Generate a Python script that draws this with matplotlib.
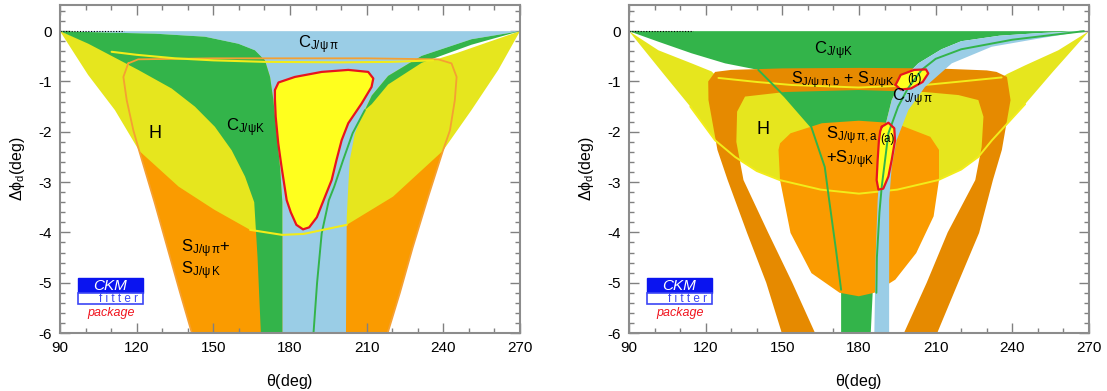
import matplotlib.pyplot as plt
from matplotlib.patches import Rectangle
from matplotlib.ticker import MultipleLocator

plt.rcParams['font.family'] = ['Liberation Sans', 'DejaVu Sans']
plt.rcParams['mathtext.fontset'] = 'custom'
plt.rcParams['mathtext.rm'] = 'Liberation Sans'
plt.rcParams['mathtext.it'] = 'Liberation Sans:italic'
plt.rcParams['mathtext.bf'] = 'Liberation Sans:bold'

# colours
C_YEL = '#e6e61e'
C_YEL_LINE = '#f2ec1a'
C_BRIGHT = '#ffff1e'
C_GREEN = '#33b44a'
C_BLUE = '#9acde6'
C_ORANGE = '#fa9b00'
C_DKORANGE = '#e68a00'
C_ORANGE_LINE = '#f5a032'
C_RED = '#e8141e'

# ---------------- left panel: (theta, delta phi_d) boundaries ----------------
L_H_lower = [(90, 0), (101, -0.87), (111.5, -1.57), (121, -2.38), (136.4, -3.09),
             (150.4, -3.55), (164.4, -3.95), (177, -4.05), (185.4, -4.03),
             (202.2, -3.85), (220.3, -3.29), (239.8, -2.38), (251, -1.57),
             (261.5, -0.77), (270, 0)]
L_H_upper = [(90, 0), (100, -0.2), (110.2, -0.41), (120, -0.47), (135, -0.54),
             (150, -0.58), (170, -0.61), (200, -0.62), (220, -0.61), (236, -0.58),
             (245, -0.44), (258, -0.21), (270, 0)]
L_H_line = [(110.2, -0.41), (120, -0.47), (135, -0.54), (150, -0.58), (170, -0.61),
            (200, -0.62), (220, -0.61), (236, -0.58)]

L_S = [(116.7, -0.64), (120.6, -0.56), (150, -0.54), (180, -0.54), (210, -0.54),
       (238, -0.56), (243.2, -0.64), (245.2, -0.91), (244.5, -1.37), (242.6, -1.97),
       (239.8, -2.38), (234, -3.3), (228, -4.3), (223, -5.2), (218.2, -6),
       (141.6, -6), (137, -5.2), (132, -4.3), (127, -3.4), (121, -2.38),
       (118.7, -1.97), (116.1, -1.37), (114.8, -0.91)]

L_K = [(90, 0), (101.1, -0.25), (120.6, -0.77), (133.7, -1.14), (142.8, -1.5),
       (150.6, -1.9), (157.2, -2.37), (162.4, -2.89), (166, -3.4), (167.3, -4.5),
       (168.6, -6), (177, -6), (177, -3.4), (176.1, -2.7), (174.8, -2.03),
       (173.5, -1.37), (172.2, -0.91), (170.2, -0.58), (166.3, -0.38),
       (159.8, -0.25), (146.7, -0.11), (127.2, -0.05), (110, -0.03)]
L_K_stripe = [(270, 0), (251, -0.16), (231.5, -0.49), (218.4, -0.89), (212, -1.28),
              (209.3, -1.57), (212, -1.45), (218.4, -1.06), (231.5, -0.63),
              (251, -0.27)]
L_K_line = [(209.3, -1.57), (204.5, -2.03), (200.8, -2.56), (197.3, -3.09),
            (195.2, -3.36), (192.4, -4.02), (190.6, -5), (189.2, -6)]

L_PI = [(95, 0), (270, 0), (251, -0.16), (231.5, -0.49), (218.4, -0.89),
        (212, -1.28), (209.3, -1.55), (205.4, -2.03), (203.4, -2.56),
        (202.8, -3.09), (202.2, -3.7), (201.9, -6), (177, -6), (177, -3.4),
        (176.1, -2.7), (174.8, -2.03), (173.5, -1.37), (172.2, -0.91),
        (170.2, -0.58), (166.3, -0.38), (159.8, -0.25), (146.7, -0.11),
        (127.2, -0.05), (110, -0.03)]

L_ALL = [(174.1, -1.17), (175.5, -1.02), (181.9, -0.91), (192.4, -0.81),
         (202.8, -0.77), (210.6, -0.81), (212.6, -0.94), (211.9, -1.11),
         (208, -1.44), (202.8, -1.83), (200.2, -2.17), (198.2, -2.56),
         (196.3, -2.96), (193.7, -3.29), (190.5, -3.7), (187.5, -3.9),
         (185.1, -3.94), (182.5, -3.85), (180.3, -3.6), (178.7, -3.36),
         (176.7, -2.7), (175.4, -2.23), (174.4, -1.7), (174.1, -1.35)]

# ---------------- right panel ----------------
R_H_lower = [(90, 0), (104, -0.88), (114, -1.5), (123.7, -2.17), (131.5, -2.5),
             (140, -2.78), (149, -2.96), (165, -3.15), (180, -3.23), (195, -3.15),
             (211, -2.96), (220, -2.75), (226.7, -2.5), (232, -2.17), (245, -1.45),
             (256, -0.8), (270, 0)]
R_H_upper = [(90, 0), (101.5, -0.38), (114.5, -0.64), (122.3, -0.8), (125, -0.93),
             (140, -1.01), (153.7, -1.07), (179.7, -1.12), (205.8, -1.07),
             (220, -1.0), (235.8, -0.92), (238, -0.85), (245, -0.68), (258, -0.38),
             (270, 0)]

R_K = [(90, 0), (266, 0), (250, -0.04), (235, -0.09), (220, -0.2), (212.3, -0.36),
       (203.2, -0.64), (196.7, -0.97), (192.8, -1.37), (190.2, -1.9),
       (188.2, -2.7), (187.3, -3.36), (186, -4.5), (184.6, -6), (173, -6),
       (173, -5.14), (171, -4.35), (168.3, -3.35), (166.6, -2.7), (161.3, -1.9),
       (151, -1.3), (140.6, -0.77), (127.6, -0.64), (114.5, -0.44),
       (101.5, -0.21)]
R_K_left_line = [(140.6, -0.77), (151, -1.3), (161.3, -1.9), (166.6, -2.7),
                 (168.3, -3.35), (171, -4.35), (173, -5.14)]
R_K_right_line = [(268, 0), (240, -0.17), (220, -0.36), (210, -0.55),
                  (204.5, -0.77), (199, -1.15), (195.3, -1.5), (191.5, -2.03),
                  (190.2, -2.56), (188.9, -3.09), (188, -3.6), (187, -4.5),
                  (186.8, -5.2)]

R_Sb = [(149.8, -6), (143.7, -5.0), (136.2, -4.01), (128.6, -2.96), (124.6, -2.36),
        (121.1, -1.37), (121, -1.0), (123.7, -0.81), (130, -0.77), (150, -0.74),
        (180, -0.73), (210, -0.74), (230, -0.78), (233.8, -0.81), (237.9, -0.91),
        (239.3, -1.37), (235.9, -2.36), (232.4, -2.96), (227, -4.01),
        (218.8, -5.0), (210.6, -6), (197.6, -6), (206.5, -5.0), (214.7, -4.0),
        (225.5, -2.96), (228, -2.3), (228.7, -1.7), (226.7, -1.37),
        (218.9, -1.27), (205.8, -1.21), (179.7, -1.17), (151, -1.21),
        (135.4, -1.3), (132.3, -1.6), (132, -2.2), (134.8, -2.96), (144.4, -4.0),
        (153.9, -5.0), (162.8, -6)]
R_Sa = [(149.1, -2.23), (153.2, -2.03), (165.5, -1.83), (179.9, -1.78),
        (194.2, -1.83), (207.9, -2.1), (211.3, -2.36), (211.3, -2.96),
        (209.2, -3.68), (202.4, -4.41), (194.2, -4.94), (186, -5.2),
        (179.9, -5.27), (172.4, -5.2), (161.4, -4.81), (153.2, -4.01),
        (149.1, -2.96), (148.5, -2.36)]

R_PI = [(268, 0), (250, -0.04), (235, -0.09), (220, -0.2), (212.3, -0.36),
        (203.2, -0.64), (196.7, -0.97), (192.8, -1.37), (190.2, -1.9),
        (188.2, -2.7), (187.3, -3.36), (186.5, -4.5), (186, -6), (191.8, -6),
        (191.8, -3.36), (192.8, -2.7), (194.7, -2.17), (199.3, -1.57),
        (205.8, -1.11), (216.3, -0.64), (231.9, -0.31), (250, -0.15)]

R_ALL_a = [(188.9, -1.9), (191.5, -1.82), (193.8, -1.93), (194.1, -2.17),
           (192.8, -2.56), (191.5, -2.89), (189.5, -3.13), (187.6, -3.15),
           (186.9, -2.96), (187.3, -2.56), (187.8, -2.17), (188.3, -1.99)]
R_ALL_b = [(194.3, -1.07), (196.3, -0.87), (201.6, -0.77), (206.2, -0.76),
           (207.1, -0.84), (204.9, -1.01), (200.3, -1.14), (196.3, -1.16)]

x_ticks = [90, 120, 150, 180, 210, 240, 270]
y_ticks = [0, -1, -2, -3, -4, -5, -6]


def xs(pts):
    return [p[0] for p in pts]


def ys(pts):
    return [p[1] for p in pts]


def fill(ax, pts, color, z):
    ax.fill(xs(pts), ys(pts), color=color, lw=0, zorder=z)


def line(ax, pts, color, z, lw=1.3, closed=False):
    p = pts + pts[:1] if closed else pts
    ax.plot(xs(p), ys(p), color=color, lw=lw, zorder=z, solid_capstyle='round')


def bowl(lower, upper):
    return lower + upper[::-1][1:-1]


def frame(ax):
    ax.set_xlim(90, 270)
    ax.set_ylim(-6, 0.52)
    ax.set_xticks(x_ticks)
    ax.set_yticks(y_ticks)
    ax.set_yticklabels([str(v) for v in y_ticks])
    ax.xaxis.set_minor_locator(MultipleLocator(10))
    ax.yaxis.set_minor_locator(MultipleLocator(0.2))
    ax.tick_params(which='both', direction='in', top=True, right=True,
                   color='#808080', labelsize=11, width=1)
    ax.tick_params(which='major', length=7, pad=6)
    ax.tick_params(which='minor', length=3.5)
    for s in ax.spines.values():
        s.set_color('#8c8c8c')
        s.set_linewidth(1.5)
        s.set_zorder(20)
    ax.set_xlabel(r'$\mathregular{\theta}$(deg)', fontsize=11.5, labelpad=12)
    ax.set_ylabel(r'$\mathregular{\Delta\phi_d}$(deg)', fontsize=11.5, labelpad=8)
    ax.plot([90, 115], [0, 0], color='black', lw=0.8, ls=(0, (1, 1.5)), zorder=15)
    # CKMfitter logo
    tr = ax.transAxes
    ax.add_patch(Rectangle((0.040, 0.121), 0.14, 0.046, transform=tr,
                           facecolor='#0a14f0', edgecolor='#0a14f0', zorder=30))
    ax.add_patch(Rectangle((0.040, 0.087), 0.14, 0.034, transform=tr,
                           facecolor='white', edgecolor='#3c46f5', lw=1.2, zorder=30))
    ax.text(0.108, 0.144, 'CKM', transform=tr, color='white', fontsize=11,
            style='italic', ha='center', va='center', zorder=31)
    ax.text(0.128, 0.103, 'f i t t e r', transform=tr, color='#3c46f5',
            fontsize=8.5, ha='center', va='center', zorder=31)
    ax.text(0.11, 0.062, 'package', transform=tr, color='#f0141e', fontsize=9,
            style='italic', ha='center', va='center', zorder=31)


fig = plt.figure(figsize=(11.07, 3.91), dpi=100)
ax1 = fig.add_axes([60 / 1107, 58 / 391, 460 / 1107, 328 / 391])
ax2 = fig.add_axes([629 / 1107, 58 / 391, 460 / 1107, 328 / 391])

# ---- left panel ----
fill(ax1, L_S, C_ORANGE, 1)
fill(ax1, bowl(L_H_lower, L_H_upper), C_YEL, 2)
fill(ax1, L_PI, C_BLUE, 3)
fill(ax1, L_K, C_GREEN, 4)
fill(ax1, L_K_stripe, C_GREEN, 4)
line(ax1, L_K_line, C_GREEN, 5, lw=1.4)
line(ax1, L_S, C_ORANGE_LINE, 6, lw=1.3, closed=True)
line(ax1, L_H_lower[6:10], C_YEL_LINE, 6, lw=1.5)
line(ax1, L_H_line, C_YEL_LINE, 6, lw=1.5)
fill(ax1, L_ALL, C_BRIGHT, 8)
line(ax1, L_ALL, C_RED, 9, lw=1.6, closed=True)

tkw = dict(fontsize=12, va='center', ha='left', zorder=12)
ax1.text(183, -0.27, r'C$_{\mathregular{J/\psi\,\pi}}$', **tkw)
ax1.text(155, -1.92, r'C$_{\mathregular{J/\psi K}}$', **tkw)
ax1.text(127, -2.03, 'H', fontsize=13, va='center', ha='center', zorder=12)
ax1.text(137.5, -4.33, r'S$_{\mathregular{J/\psi\,\pi}}$+', **tkw)
ax1.text(137.5, -4.76, r'S$_{\mathregular{J/\psi\,K}}$', **tkw)
frame(ax1)

# ---- right panel ----
fill(ax2, bowl(R_H_lower, R_H_upper), C_YEL, 1)
fill(ax2, R_K, C_GREEN, 2)
fill(ax2, R_Sb, C_DKORANGE, 3)
fill(ax2, R_Sa, C_ORANGE, 4)
line(ax2, R_H_lower[2:-2], C_YEL_LINE, 5, lw=1.4)
line(ax2, R_H_upper[4:-4], C_YEL_LINE, 5, lw=1.4)
line(ax2, R_K_left_line, C_GREEN, 5, lw=1.4)
fill(ax2, R_PI, C_BLUE, 6)
fill(ax2, R_ALL_a, C_BRIGHT, 7)
fill(ax2, R_ALL_b, C_BRIGHT, 7)
line(ax2, R_K_right_line, C_GREEN, 8, lw=1.4)
line(ax2, R_ALL_a, C_RED, 9, lw=1.6, closed=True)
line(ax2, R_ALL_b, C_RED, 9, lw=1.6, closed=True)

ax2.text(162.5, -0.38, r'C$_{\mathregular{J/\psi K}}$', **tkw)
ax2.text(153.5, -0.97, r'S$_{\mathregular{J/\psi\,\pi,b}}$ + S$_{\mathregular{J/\psi K}}$',
         fontsize=11.5, va='center', ha='left', zorder=12)
ax2.text(193, -1.33, r'C$_{\mathregular{J/\psi\,\pi}}$', **tkw)
ax2.text(142.5, -1.95, 'H', fontsize=13, va='center', ha='center', zorder=12)
ax2.text(167, -2.08, r'S$_{\mathregular{J/\psi\,\pi,a}}$', **tkw)
ax2.text(167, -2.55, r'+S$_{\mathregular{J/\psi K}}$', **tkw)
ax2.text(191.2, -2.15, '(a)', fontsize=8.5, ha='center', va='center', zorder=12)
ax2.text(201.8, -0.95, '(b)', fontsize=8.5, ha='center', va='center', zorder=12)
frame(ax2)

fig.savefig('out.png', dpi=100)
